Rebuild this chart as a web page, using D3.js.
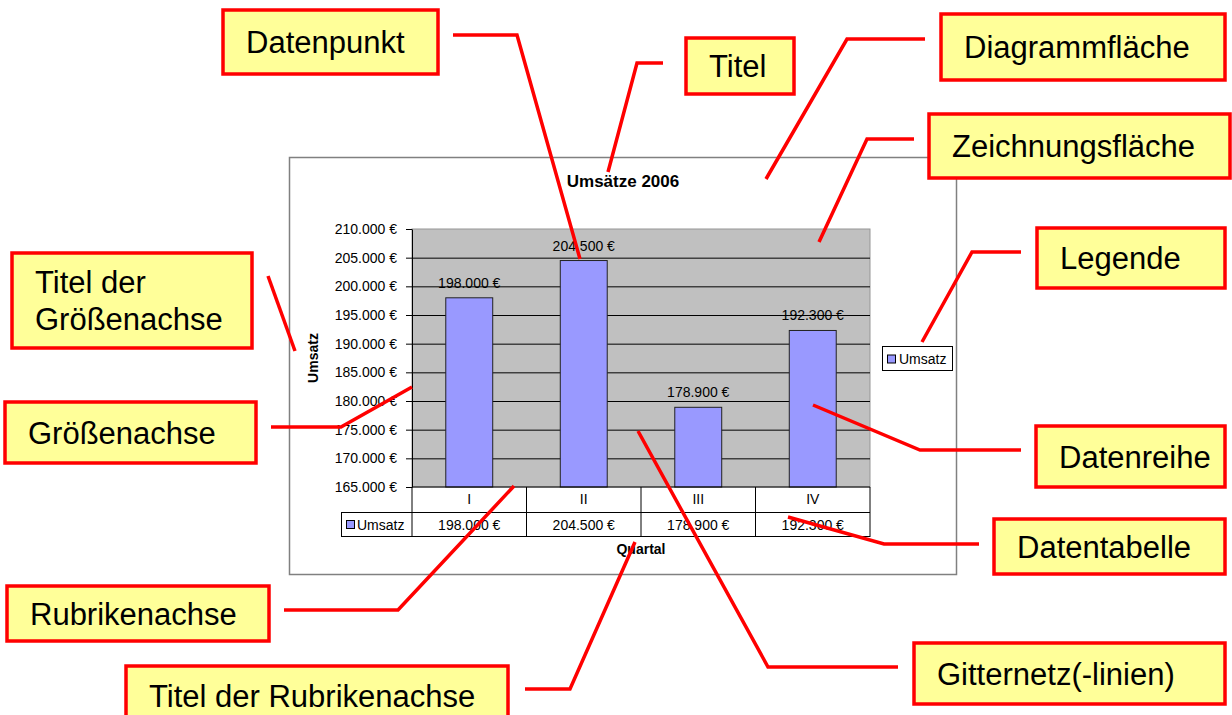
<!DOCTYPE html>
<html>
<head>
<meta charset="utf-8">
<script src="https://cdn.jsdelivr.net/npm/d3@7"></script>
<style>
    body { margin: 0; background: #fff; }
    svg { display: block; font-family: "Liberation Sans", Arial, sans-serif; }
</style>
</head>
<body>
<div class="chartContainer"></div>
<script>
// chart data
var categories = ["I", "II", "III", "IV"];
var umsatz = [198000, 204500, 178900, 192300];
var yTickValues = [165000, 170000, 175000, 180000, 185000, 190000, 195000, 200000, 205000, 210000];
var seriesName = "Umsatz";
var chartTitle = "Umsätze 2006";
var xTitle = "Quartal";
var yTitle = "Umsatz";

// annotation callouts (labels + where the boxes / leader lines go)
var callouts = [
    {label: ["Datenpunkt"], box: [223, 10, 438, 74], line: [[453, 35], [517, 35], [580, 259]]},
    {label: ["Titel"], box: [686, 38, 794, 94], line: [[663, 63], [637, 63], [608, 172]]},
    {label: ["Diagrammfläche"], box: [941, 14, 1225, 80], line: [[925, 39], [847, 39], [766, 179]]},
    {label: ["Zeichnungsfläche"], box: [929, 114, 1230, 178], line: [[914, 139], [867, 139], [819, 242]]},
    {label: ["Legende"], box: [1037, 228, 1225, 288], line: [[1021, 252], [972, 252], [922, 342]]},
    {label: ["Titel der", "Größenachse"], box: [12, 253, 252, 348], line: [[268, 276], [295, 351]]},
    {label: ["Größenachse"], box: [5, 402, 256, 463], line: [[271, 427], [341, 427], [412, 387]]},
    {label: ["Datenreihe"], box: [1036, 426, 1225, 487], line: [[1021, 450], [920, 450], [813, 405]]},
    {label: ["Datentabelle"], box: [994, 519, 1225, 574], line: [[979, 544], [884, 544], [788, 517]]},
    {label: ["Gitternetz(-linien)"], box: [914, 643, 1225, 704], line: [[898, 667], [768, 667], [638, 431]]},
    {label: ["Rubrikenachse"], box: [7, 586, 269, 641], line: [[284, 610], [398, 610], [514, 486]]},
    {label: ["Titel der Rubrikenachse"], box: [126, 666, 508, 725], line: [[525, 689], [570, 689], [635, 542]]}
];

var width = 1232,
    height = 715,
    frame = {left: 289.5, top: 157.5, right: 956.5, bottom: 574.5},
    plot = {left: 412, right: 870, top: 229, bottom: 487},
    rowTop = 487,
    rowMid = 512,
    rowBottom = 536,
    keyLeft = 341,
    barFill = "#9999FF";

var de = d3.formatLocale({decimal: ",", thousands: ".", grouping: [3], currency: ["", " €"]});
var euro = de.format("$,.0f");

var data = categories.map(function(c, i) { return {cat: c, value: umsatz[i]}; });

var y = d3.scaleLinear()
        .domain([yTickValues[0], yTickValues[yTickValues.length - 1]])
        .range([plot.bottom, plot.top]);

var x = d3.scaleBand()
        .domain(categories)
        .range([plot.left, plot.right])
        .paddingInner(0.59)
        .paddingOuter(0.295);

// table columns share the category axis, no padding
var col = d3.scaleBand()
        .domain(categories)
        .range([plot.left, plot.right]);

var svg = d3.select(".chartContainer").append("svg")
        .attr("width", width)
        .attr("height", height);

svg.append("rect")
    .attr("width", width)
    .attr("height", height)
    .style("fill", "#fff");

// Diagrammfläche
svg.append("rect")
    .attr("x", frame.left)
    .attr("y", frame.top)
    .attr("width", frame.right - frame.left)
    .attr("height", frame.bottom - frame.top)
    .style("fill", "#fff")
    .style("stroke", "#808080")
    .style("stroke-width", 1.5);

// Zeichnungsfläche
svg.append("rect")
    .attr("x", plot.left)
    .attr("y", plot.top)
    .attr("width", plot.right - plot.left)
    .attr("height", plot.bottom - plot.top)
    .style("fill", "#C0C0C0")
    .style("stroke", "#969696")
    .style("stroke-width", 1);

// gridlines
var grid = svg.append("g")
        .attr("transform", "translate(" + plot.left + ",0)")
        .call(d3.axisLeft(y)
            .tickValues(yTickValues.slice(1, -1))
            .tickSize(-(plot.right - plot.left))
            .tickFormat(""));
grid.select(".domain").remove();
grid.selectAll("line").style("stroke", "#000").style("stroke-width", 1);

// bars
svg.selectAll(".bar")
    .data(data)
    .enter().append("rect")
    .attr("class", "bar")
    .attr("x", function(d) { return x(d.cat); })
    .attr("y", function(d) { return y(d.value); })
    .attr("width", x.bandwidth())
    .attr("height", function(d) { return y.range()[0] - y(d.value); })
    .style("fill", barFill)
    .style("stroke", "#222")
    .style("stroke-width", 1);

// data labels
svg.selectAll(".dataLabel")
    .data(data)
    .enter().append("text")
    .attr("class", "dataLabel")
    .attr("x", function(d) { return x(d.cat) + x.bandwidth() / 2; })
    .attr("y", function(d) { return y(d.value) - 10; })
    .attr("text-anchor", "middle")
    .style("font-size", "14px")
    .style("fill", "#000")
    .text(function(d) { return euro(d.value); });

// Größenachse
var yAxis = svg.append("g")
        .attr("transform", "translate(" + plot.left + ",0)")
        .call(d3.axisLeft(y)
            .tickValues(yTickValues)
            .tickSize(6)
            .tickSizeOuter(0)
            .tickPadding(9)
            .tickFormat(euro));
yAxis.attr("font-family", null).attr("font-size", null);
yAxis.selectAll("text").style("font-size", "14px").style("fill", "#000");
yAxis.selectAll("line, path").style("stroke", "#000");

// x axis line / table top
svg.append("line")
    .attr("x1", plot.left).attr("x2", plot.right)
    .attr("y1", rowTop).attr("y2", rowTop)
    .style("stroke", "#000");

// data table grid
var table = svg.append("g").style("stroke", "#000").style("stroke-width", 1);
table.append("line")
    .attr("x1", keyLeft).attr("x2", plot.right)
    .attr("y1", rowMid + 0.5).attr("y2", rowMid + 0.5);
table.append("line")
    .attr("x1", keyLeft).attr("x2", plot.right)
    .attr("y1", rowBottom + 0.5).attr("y2", rowBottom + 0.5);
table.append("line")
    .attr("x1", keyLeft + 0.5).attr("x2", keyLeft + 0.5)
    .attr("y1", rowMid).attr("y2", rowBottom + 1);
table.selectAll(".colLine")
    .data(categories.concat(["end"]))
    .enter().append("line")
    .attr("class", "colLine")
    .attr("x1", function(d, i) { return i < categories.length ? col(d) : plot.right; })
    .attr("x2", function(d, i) { return i < categories.length ? col(d) : plot.right; })
    .attr("y1", rowTop)
    .attr("y2", rowBottom + 1);

svg.selectAll(".catLabel")
    .data(categories)
    .enter().append("text")
    .attr("class", "catLabel")
    .attr("x", function(d) { return col(d) + col.bandwidth() / 2; })
    .attr("y", rowMid - 8)
    .attr("text-anchor", "middle")
    .style("font-size", "14px")
    .text(function(d) { return d; });

svg.selectAll(".cellLabel")
    .data(data)
    .enter().append("text")
    .attr("class", "cellLabel")
    .attr("x", function(d) { return col(d.cat) + col.bandwidth() / 2; })
    .attr("y", rowBottom - 6)
    .attr("text-anchor", "middle")
    .style("font-size", "14px")
    .text(function(d) { return euro(d.value); });

svg.append("rect")
    .attr("x", keyLeft + 5.5)
    .attr("y", rowMid + 8.5)
    .attr("width", 8)
    .attr("height", 8)
    .style("fill", barFill)
    .style("stroke", "#000");
svg.append("text")
    .attr("x", keyLeft + 16)
    .attr("y", rowBottom - 6)
    .style("font-size", "14px")
    .text(seriesName);

// titles
svg.append("text")
    .attr("x", (frame.left + frame.right) / 2)
    .attr("y", 187)
    .attr("text-anchor", "middle")
    .style("font-size", "17px")
    .style("font-weight", "bold")
    .text(chartTitle);

svg.append("text")
    .attr("x", (plot.left + plot.right) / 2)
    .attr("y", 554)
    .attr("text-anchor", "middle")
    .style("font-size", "14px")
    .style("font-weight", "bold")
    .text(xTitle);

svg.append("text")
    .attr("transform", "translate(318," + (plot.top + plot.bottom) / 2 + ") rotate(-90)")
    .attr("text-anchor", "middle")
    .style("font-size", "14px")
    .style("font-weight", "bold")
    .text(yTitle);

// Legende
var legend = svg.append("g").attr("transform", "translate(882.5,346.5)");
legend.append("rect")
    .attr("width", 70)
    .attr("height", 24)
    .style("fill", "#fff")
    .style("stroke", "#000");
legend.append("rect")
    .attr("x", 5)
    .attr("y", 8.5)
    .attr("width", 8)
    .attr("height", 8)
    .style("fill", barFill)
    .style("stroke", "#000");
legend.append("text")
    .attr("x", 16.5)
    .attr("y", 17.5)
    .style("font-size", "14px")
    .text(seriesName);

// callout leader lines, then the boxes on top
var lineGen = d3.line();
svg.selectAll(".leader")
    .data(callouts)
    .enter().append("path")
    .attr("class", "leader")
    .attr("d", function(d) { return lineGen(d.line); })
    .style("fill", "none")
    .style("stroke", "#FF0000")
    .style("stroke-width", 3.5);

var boxes = svg.selectAll(".callout")
        .data(callouts)
        .enter().append("g")
        .attr("class", "callout");

boxes.append("rect")
    .attr("x", function(d) { return d.box[0]; })
    .attr("y", function(d) { return d.box[1]; })
    .attr("width", function(d) { return d.box[2] - d.box[0]; })
    .attr("height", function(d) { return d.box[3] - d.box[1]; })
    .style("fill", "#FFFF99")
    .style("stroke", "#FF0000")
    .style("stroke-width", 3.5);

boxes.each(function(d) {
    var g = d3.select(this),
        mid = (d.box[1] + d.box[3]) / 2,
        lh = 37,
        first = mid - (d.label.length - 1) * lh / 2 + 11;
    d.label.forEach(function(t, k) {
        g.append("text")
            .attr("x", d.box[0] + 23)
            .attr("y", first + k * lh)
            .style("font-size", "31px")
            .style("fill", "#000")
            .text(t);
    });
});
</script>
</body>
</html>
